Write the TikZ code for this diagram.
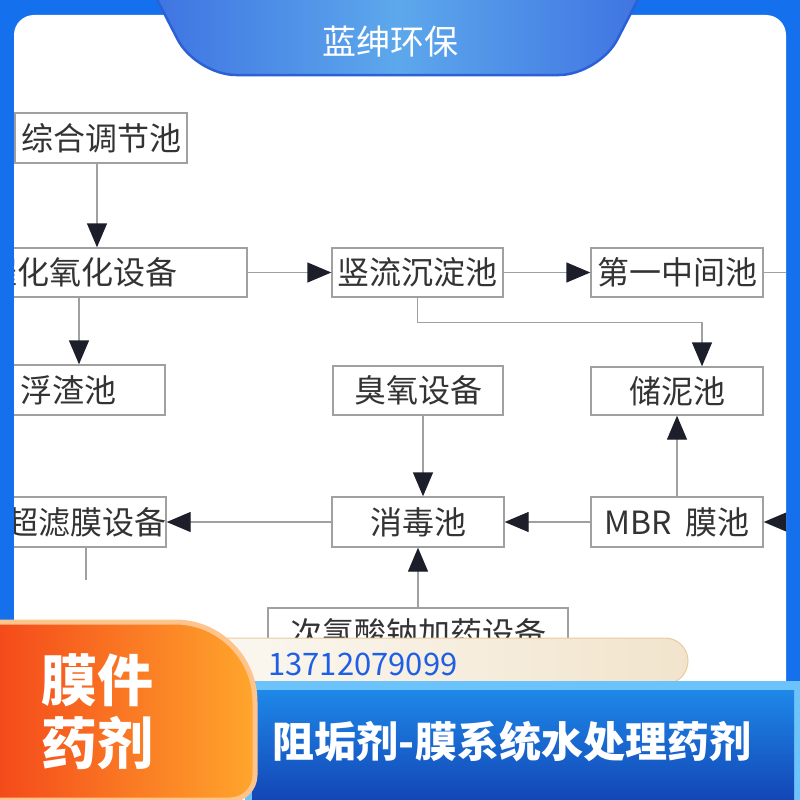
\documentclass[tikz,border=0pt]{standalone}
\usepackage{fontspec}
\setmainfont{Noto Sans CJK SC}
\usetikzlibrary{arrows.meta}

\definecolor{bgblue}{HTML}{1570EE}
\definecolor{tabedge}{HTML}{3A6CE0}
\definecolor{tablight}{HTML}{5DA8EC}
\definecolor{tabrim}{HTML}{2C60D6}
\definecolor{boxgray}{HTML}{A0A0A0}
\definecolor{inkgray}{HTML}{333333}
\definecolor{tipdark}{HTML}{1C1F2A}
\definecolor{orangered}{HTML}{F4471A}
\definecolor{orangelight}{HTML}{FFA62C}
\definecolor{peach}{HTML}{FFC48C}
\definecolor{pillwhite}{HTML}{FBF8F2}
\definecolor{pillbeige}{HTML}{F2E4CC}
\definecolor{pilledge}{HTML}{E8CC9E}
\definecolor{telblue}{HTML}{1E5FE6}
\definecolor{bannerrim}{HTML}{6CC2FA}
\definecolor{bannertop}{HTML}{1E88E8}
\definecolor{bannerbot}{HTML}{1346B6}

\tikzset{
  box/.style={draw=boxgray,line width=1.4pt,fill=white,text=inkgray,inner sep=0pt,
    font=\fontsize{32}{32}\selectfont,minimum height=50pt},
  flow/.style={draw=boxgray,line width=1.4pt,-{Triangle[length=24pt,width=20pt,color=tipdark]}},
  link/.style={draw=boxgray,line width=1.4pt},
  tabtxt/.style={text=white,font=\fontsize{56}{56}\selectfont\bfseries},
}

\begin{document}
\begin{tikzpicture}[x=1pt,y=-1pt]
\useasboundingbox (0,0) rectangle (800,800);
\fill[bgblue] (0,0) rectangle (800,800);
\fill[white,rounded corners=20pt] (14,15) rectangle (786,830);

\begin{scope}
  \clip (14,15) rectangle (786,800);
  \node[box,minimum width=172pt] (pool) at (101,138) {综合调节池};
  \node[box,minimum width=330pt,minimum height=49pt] (catox) at (82,272.5) {催化氧化设备};
  \node[box,minimum width=194pt] (scum) at (68,390) {浮渣池};
  \node[box,minimum width=171pt,minimum height=49pt] (settle) at (417.5,272.5) {竖流沉淀池};
  \node[box,minimum width=172pt,minimum height=49pt] (mid) at (677,272.5) {第一中间池};
  \node[box,minimum width=172pt,minimum height=48pt] (sludge) at (677,391) {储泥池};
  \node[box,minimum width=170pt,minimum height=49pt] (ozone) at (418,390.5) {臭氧设备};
  \node[box,minimum width=172pt] (disinf) at (418,522) {消毒池};
  \node[box,minimum width=172pt] (mbr) at (677,522) {MBR\ \ 膜池};
  \node[box,minimum width=158pt] (uf) at (86,522) {超滤膜设备};
  \node[box,minimum width=300pt] (dose) at (418,633) {次氯酸钠加药设备};
  \coordinate (midout) at (800,272.5);
  \coordinate (mbrin) at (800,522);
  \coordinate (uftail) at (86,580);

  \draw[flow] ([xshift=-4pt]pool.south) -- ([xshift=-4pt]pool.south |- catox.north);
  \draw[flow] ([xshift=-3pt]catox.south) -- ([xshift=-3pt]catox.south |- scum.north);
  \draw[flow] (catox.east) -- (settle.west);
  \draw[flow] (settle.east) -- (mid.west);
  \draw[link] (mid.east) -- (midout);
  \draw[flow] (settle.south) |- ([xshift=25pt,yshift=44pt]sludge.north) -- ([xshift=25pt]sludge.north);
  \draw[flow] ([xshift=5pt]ozone.south) -- ([xshift=5pt]disinf.north);
  \draw[flow] (mbr.north) -- (sludge.south);
  \draw[flow] (mbr.west) -- (disinf.east);
  \draw[flow] (mbrin) -- (mbr.east);
  \draw[flow] (disinf.west) -- (uf.east);
  \draw[link] (uf.south) -- (uftail);
  \draw[flow] (dose.north) -- (disinf.south);
\end{scope}

\shade[left color=tabedge,right color=tabedge,middle color=tablight,draw=tabrim,line width=2.5pt,rounded corners=40pt]
  (116,-80) -- (196,75) -- (599,75) -- (679,-80) -- cycle;
\node[text=white,font=\fontsize{34}{34}\selectfont] (brand) at (390,42) {蓝绅环保};

\shade[left color=pillwhite,right color=pillbeige,draw=pilledge,line width=1pt,rounded corners=23pt]
  (200,638) rectangle (688,684);
\node[text=telblue,font=\fontsize{31}{31}\selectfont,anchor=west,inner sep=0pt] (tel) at (268,664) {13712079099};

\fill[bannerrim] (245,681) rectangle (805,805);
\shade[top color=bannertop,bottom color=bannerbot] (252,690) rectangle (794,800);
\node[text=white,font=\fontsize{42}{42}\selectfont\bfseries] (slogan) at (512,742) {阻垢剂-膜系统水处理药剂};

\shade[left color=orangered,right color=orangelight,draw=peach,line width=5pt]
  (-10,622) -- (175,622) arc[start angle=90,end angle=0,radius=80pt] -- (255,775)
  arc[start angle=0,end angle=-90,radius=25pt] -- (-10,800) -- cycle;
\node[tabtxt] (tag1) at (97,680) {膜件};
\node[tabtxt] (tag2) at (97,743) {药剂};
\end{tikzpicture}
\end{document}
